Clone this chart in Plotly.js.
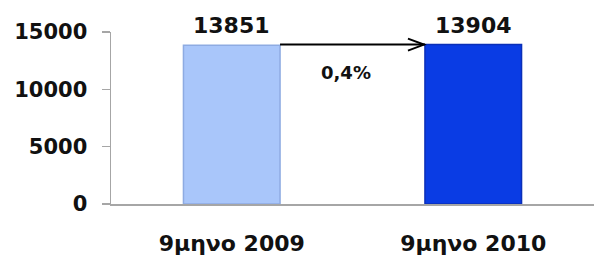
<!DOCTYPE html>
<html>
<head>
<meta charset="utf-8">
<script src="https://cdn.plot.ly/plotly-3.0.1.min.js"></script>
<style>html,body{margin:0;padding:0;background:#fff;}#chart{width:594px;height:258px;}</style>
</head>
<body>
<div id="chart"></div>
<script>
const categories = ["9μηνο 2009", "9μηνο 2010"];
const values = [13851, 13904];
const barColors = ["#a9c6fa", "#0a3ce4"];
const edgeColors = ["#8eabe2", "#0a2fb8"];
const yTicks = [0, 5000, 10000, 15000];

const FONT = "DejaVu Sans, Arial, sans-serif";
const barWidth = 0.4;
const change = (values[1] / values[0] - 1) * 100;
const changeText = change.toFixed(1).replace(".", ",") + "%";

const data = [{
  type: "bar",
  x: [0, 1],
  y: values,
  width: barWidth,
  marker: {color: barColors, line: {color: edgeColors, width: 1.5}},
  hoverinfo: "none"
}];

const annotations = values.map((v, i) => ({
  x: i, y: v, xref: "x", yref: "y",
  text: "<b>" + v + "</b>", showarrow: false,
  yanchor: "bottom", yshift: 5,
  font: {family: FONT, size: 22, color: "#111"}
}));
annotations.push({
  x: 0.475, y: 0.835, xref: "x", yref: "paper",
  text: "<b>" + changeText + "</b>", showarrow: false,
  font: {family: FONT, size: 18, color: "#111"}
});

const x0 = 0 + barWidth / 2, x1 = 1 - barWidth / 2;
const yA = values[1];
const shapes = [
  {type: "line", xref: "x", yref: "y", x0: x0, x1: x1, y0: yA, y1: yA,
   line: {color: "#000", width: 2}},
  {type: "path", xref: "x", yref: "y", xsizemode: "pixel", ysizemode: "pixel",
   xanchor: x1, yanchor: yA, path: "M-17,6 L-1,0 L-17,-6",
   line: {color: "#000", width: 2}}
];

const layout = {
  width: 594, height: 258,
  margin: {l: 111, r: 0, t: 32, b: 53.5},
  paper_bgcolor: "#fff", plot_bgcolor: "#fff",
  showlegend: false,
  bargap: 0,
  xaxis: {
    type: "linear", range: [-0.5, 1.5],
    tickvals: [0, 1], ticktext: categories.map(c => "<b>" + c + "</b>"),
    showline: true, linecolor: "#a6a6a6", linewidth: 1.5,
    ticks: "", showgrid: false, zeroline: false,
    ticklabelstandoff: 19,
    tickfont: {family: FONT, size: 22, color: "#111"}
  },
  yaxis: {
    range: [0, 15000], tickvals: yTicks, ticktext: yTicks.map(t => "<b>" + t + "</b>"),
    showline: true, linecolor: "#a6a6a6", linewidth: 1.5,
    ticks: "outside", ticklen: 8, tickcolor: "#a6a6a6", tickwidth: 1.5,
    showgrid: false, zeroline: false,
    ticklabelstandoff: 10,
    tickfont: {family: FONT, size: 21, color: "#111"}
  },
  annotations: annotations,
  shapes: shapes
};

Plotly.newPlot("chart", data, layout, {staticPlot: true, displayModeBar: false});
</script>
</body>
</html>
